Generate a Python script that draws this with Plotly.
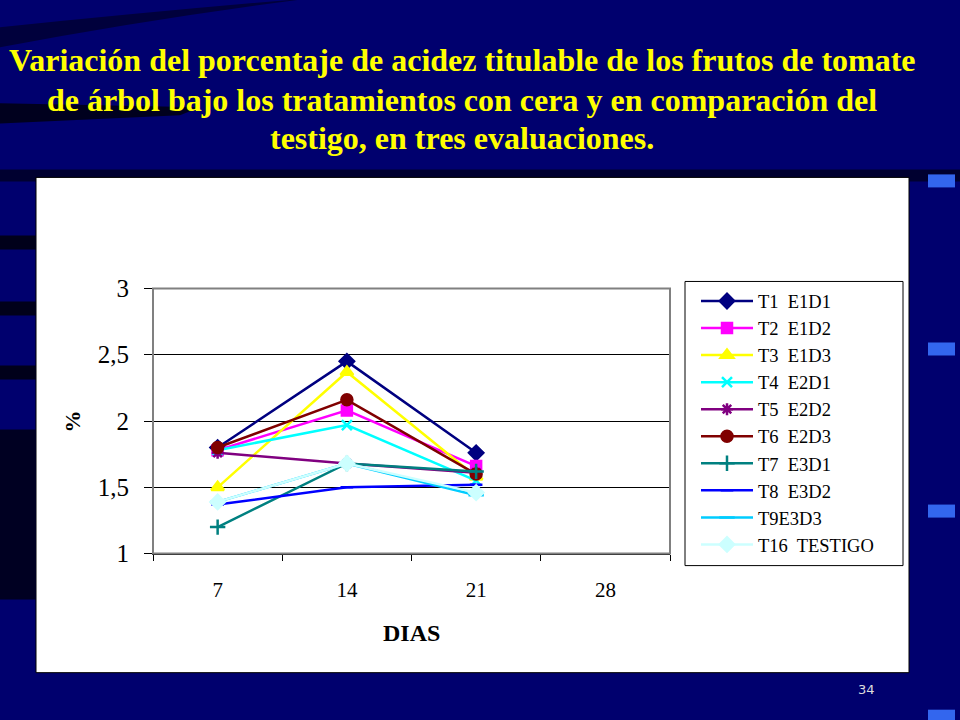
import plotly.graph_objects as go

# Datos (% acidez titulable por día)
dias = ['7', '14', '21', '28']
dias_eval = ['7', '14', '21']

t1_e1d1 = [1.80, 2.45, 1.76]
t2_e1d2 = [1.78, 2.08, 1.66]
t3_e1d3 = [1.50, 2.37, 1.58]
t4_e2d1 = [1.78, 1.97, 1.55]
t5_e2d2 = [1.76, 1.68, 1.61]
t6_e2d3 = [1.80, 2.16, 1.60]
t7_e3d1 = [1.20, 1.68, 1.62]
t8_e3d2 = [1.37, 1.50, 1.52]
t9_e3d3 = [1.39, 1.68, 1.44]
t16_testigo = [1.39, 1.68, 1.46]

y_ticks = [1, 1.5, 2, 2.5, 3]

titulo = ['Variación del porcentaje de acidez titulable de los frutos de tomate',
          'de árbol bajo los tratamientos con cera y en comparación del',
          'testigo, en tres evaluaciones.']

serif = 'Liberation Serif'

# nombre, valores, color, símbolo, tamaño del marcador
series = [
    ('T1  E1D1', t1_e1d1, '#000080', 'diamond', 11),
    ('T2  E1D2', t2_e1d2, '#ff00ff', 'square', 10),
    ('T3  E1D3', t3_e1d3, '#ffff00', 'triangle-up', 11),
    ('T4  E2D1', t4_e2d1, '#00ffff', 'x-thin-open', 10),
    ('T5  E2D2', t5_e2d2, '#800080', 'asterisk-open', 10),
    ('T6  E2D3', t6_e2d3, '#800000', 'circle', 11),
    ('T7  E3D1', t7_e3d1, '#008080', 'cross-thin-open', 11),
    ('T8  E3D2', t8_e3d2, '#0000ff', 'line-ew-open', 9),
    ('T9E3D3', t9_e3d3, '#00ccff', 'line-ew-open', 11),
    ('T16  TESTIGO', t16_testigo, '#ccffff', 'diamond', 11),
]

data = []
for nombre, valores, color, simbolo, tam in series:
    data.append(go.Scatter(
        x=dias_eval,
        y=valores,
        mode='lines+markers',
        name=nombre,
        line=dict(color=color, width=2.5),
        marker=dict(symbol=simbolo, size=tam, color=color,
                    line=dict(color=color, width=2.5)),
    ))

fig = go.Figure(data=data)


def px(x):
    return x / 960


def py(y):
    # la captura sale un poco comprimida en vertical alrededor del centro
    yi = 360 + (y - 360) / 0.962
    return 1 - yi / 720


# Fondo de la diapositiva: bandas oscuras
fig.add_shape(type='path', xref='paper', yref='paper', layer='below',
              path='M 0,{} Q {},{} {},{} L {},{} Q {},{} 0,{} Z'.format(
                  py(28), px(250), py(2), px(480), py(-14), px(420), py(-14),
                  px(200), py(10), py(48)),
              fillcolor='#00003c', line_width=0)
fig.add_shape(type='path', xref='paper', yref='paper', layer='below',
              path='M 0,{} L {},{} L {},{} L 0,{} Z'.format(
                  py(104), px(200), py(108), px(180), py(116), py(124)),
              fillcolor='#00001e', line_width=0)
fig.add_shape(type='rect', xref='paper', yref='paper', layer='below',
              x0=0, x1=1, y0=py(182), y1=py(170),
              fillcolor='#000030', line_width=0)

# Caja blanca del gráfico sobre la diapositiva
fig.add_shape(type='rect', xref='paper', yref='paper',
              x0=px(36), x1=px(909), y0=py(673), y1=py(178),
              fillcolor='white', line=dict(color='black', width=1), layer='below')

# Franjas oscuras de la izquierda
for y0, y1 in [(236, 250), (302, 316), (366, 380)]:
    fig.add_shape(type='rect', xref='paper', yref='paper',
                  x0=0, x1=px(36), y0=py(y1), y1=py(y0),
                  fillcolor='#00001a', line_width=0, layer='below')
fig.add_shape(type='rect', xref='paper', yref='paper',
              x0=0, x1=px(36), y0=py(600), y1=py(430),
              fillcolor='#000022', line_width=0, layer='below')

# Adornos azules de la derecha
for y0, y1 in [(175, 188), (343, 356), (505, 518), (710, 735)]:
    fig.add_shape(type='rect', xref='paper', yref='paper',
                  x0=px(928), x1=px(955), y0=py(y1), y1=py(y0),
                  fillcolor='#3366ee', line_width=0, layer='below')

# Marco de la leyenda
fig.add_shape(type='rect', xref='paper', yref='paper',
              x0=px(685), x1=px(903), y0=py(566), y1=py(282),
              fillcolor='rgba(0,0,0,0)', line=dict(color='black', width=1))

# Títulos
for i, linea in enumerate(titulo):
    fig.add_annotation(text='<b>' + linea + '</b>', xref='paper', yref='paper',
                       x=px(462), y=py([60.5, 100.5, 138.5][i]), showarrow=False,
                       xanchor='center', yanchor='middle',
                       font=dict(family=serif, size=32, color='#ffff00'))

fig.add_annotation(text='<b>DIAS</b>', xref='paper', yref='paper',
                   x=px(411), y=py(633), showarrow=False,
                   xanchor='center', yanchor='middle',
                   font=dict(family=serif, size=24, color='black'))
fig.add_annotation(text='<b>%</b>', xref='paper', yref='paper',
                   x=px(73), y=py(422), showarrow=False, textangle=-90,
                   xanchor='center', yanchor='middle',
                   font=dict(family=serif, size=22, color='black'))
fig.add_annotation(text='34', xref='paper', yref='paper',
                   x=px(866), y=py(690), showarrow=False,
                   xanchor='center', yanchor='middle',
                   font=dict(family='DejaVu Sans', size=13, color='#dddddd'))

fig.update_layout(
    width=960,
    height=720,
    autosize=False,
    margin=dict(l=0, r=0, t=0, b=0),
    paper_bgcolor='#00006e',
    plot_bgcolor='#c0c0c0',
    separators=',.',
    showlegend=True,
    legend=dict(
        x=px(696), y=py(283), xanchor='left', yanchor='top',
        bgcolor='rgba(0,0,0,0)', borderwidth=0,
        font=dict(family=serif, size=18.5, color='black'),
        tracegroupgap=0, itemwidth=52,
    ),
    xaxis=dict(
        domain=[px(153), px(670)],
        type='category', categoryorder='array', categoryarray=dias,
        range=[-0.5, 3.5],
        showline=True, linecolor='black', linewidth=1, mirror=False,
        showgrid=False, zeroline=False,
        ticks='outside', tickson='boundaries', ticklen=6, tickcolor='black',
        ticklabelstandoff=17,
        tickfont=dict(family=serif, size=21, color='black'),
    ),
    yaxis=dict(
        domain=[py(554), py(289)],
        range=[1, 3], tickvals=y_ticks,
        showline=True, linecolor='black', linewidth=1,
        showgrid=True, gridcolor='black', gridwidth=1, zeroline=False,
        ticks='outside', ticklen=8, tickcolor='black',
        ticklabelstandoff=10,
        tickfont=dict(family=serif, size=25, color='black'),
    ),
)

# Borde gris del área de trazado
fig.add_shape(type='rect', xref='x domain', yref='y domain', x0=0, x1=1, y0=0, y1=1,
              line=dict(color='#808080', width=2), fillcolor='rgba(0,0,0,0)', layer='above')

# La figura se fija en la esquina para que la página mida justo 960x720
ajuste = ("var gd = document.getElementById('{plot_id}');"
          "gd.style.position = 'absolute'; gd.style.left = '0'; gd.style.top = '0';"
          "document.body.style.margin = '0'; document.body.style.overflow = 'hidden';")
fig.write_html('out.html', config={'displayModeBar': False}, post_script=ajuste)
